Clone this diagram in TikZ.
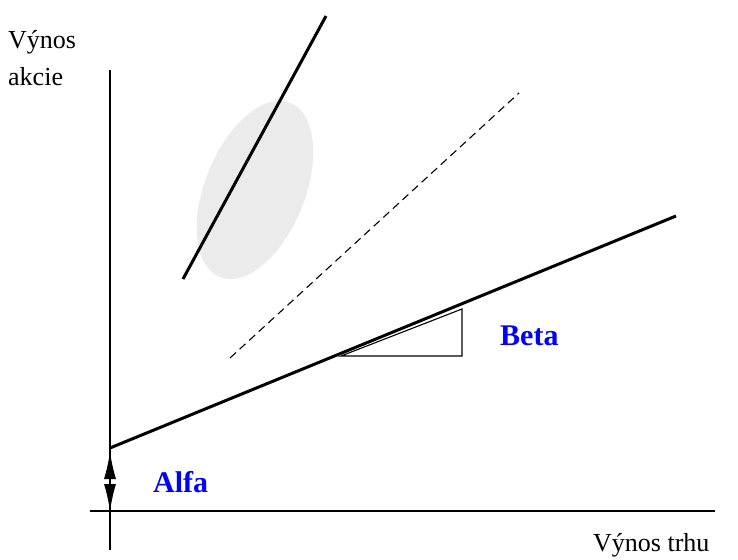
\documentclass[tikz,border=0pt]{standalone}
\usepackage{fontspec}
\setmainfont{Liberation Serif}
\usetikzlibrary{arrows.meta, positioning}

\begin{document}
\begin{tikzpicture}[
  x=1pt, y=-1pt,
  axis/.style={line width=1.3pt},
  fatline/.style={line width=3pt},
  thinline/.style={line width=1.1pt},
  lbl/.style={font=\fontsize{26}{37}\selectfont, inner sep=0pt, align=left},
  greek/.style={font=\fontsize{30}{34}\selectfont\bfseries, text=blue, inner sep=0pt},
  arr/.style={{Latex[length=27pt,width=12pt]}-{Latex[length=27pt,width=12pt]}, line width=1pt}
]
\useasboundingbox (0,0) rectangle (738,559);

% oblak bodu
\fill[black!8] (255,190) ellipse[x radius=94, y radius=50, rotate=68];

% osy
\coordinate (ytop) at (110,70);
\coordinate (ybot) at (110,550);
\coordinate (xleft) at (90,511);
\coordinate (xright) at (715,511);
\draw[axis] (ytop) -- (ybot);
\draw[axis] (xleft) -- (xright);

% primky
\coordinate (a0) at (110,448);
\coordinate (a1) at (676,216);
\draw[fatline] (a0) -- (a1);
\coordinate (s0) at (183,279);
\coordinate (s1) at (326,16);
\draw[fatline] (s0) -- (s1);
\coordinate (d0) at (230,358);
\coordinate (d1) at (519,93);
\draw[thinline, dash pattern=on 8pt off 5pt] (d0) -- (d1);

% trojuhelnik sklonu
\coordinate (t1) at (341,356);
\coordinate (t2) at (462,356);
\coordinate (t3) at (462,309);
\draw[thinline] (t1) -- (t2) -- (t3) -- cycle;

% alfa
\coordinate (al0) at (110,452);
\coordinate (al1) at (110,511);
\draw[arr] (al0) -- (al1);

% popisky
\node[lbl, anchor=north west] (yl) at (8,30) {Výnos\\akcie};
\node[lbl, anchor=base west] (xl) at (593,551) {Výnos trhu};
\node[greek, anchor=base west] (beta) at (500,345) {Beta};
\node[greek, anchor=base west] (alfa) at (153,492) {Alfa};
\end{tikzpicture}
\end{document}
